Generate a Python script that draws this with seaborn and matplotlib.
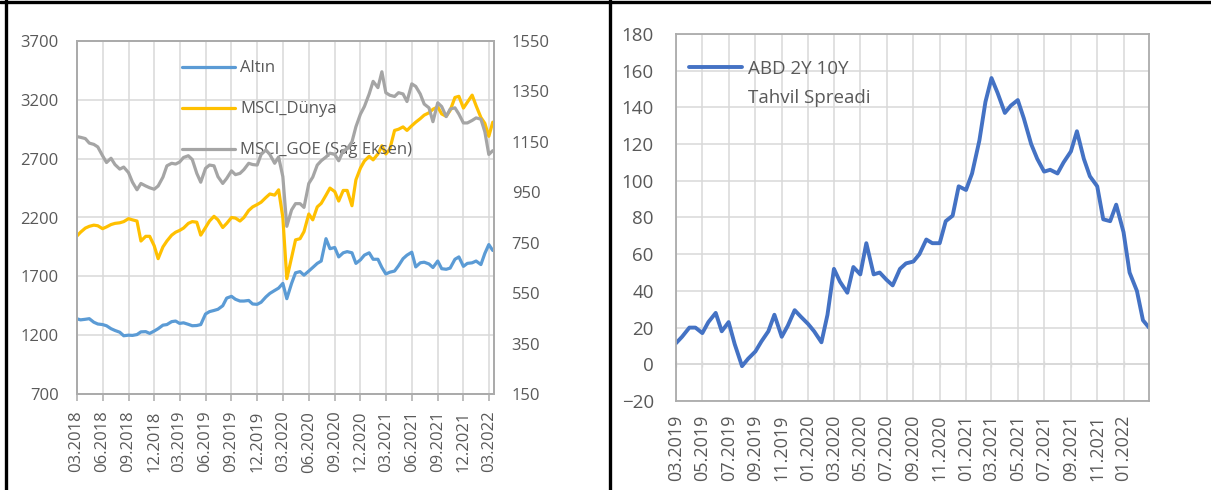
import matplotlib
matplotlib.use("Agg")
import matplotlib.pyplot as plt
import matplotlib.dates as mdates
from matplotlib.lines import Line2D
import seaborn as sns
import pandas as pd

# ---------------- data ----------------
left_dates = pd.date_range("2018-03-01", "2022-03-15", freq="SMS")
gold = [1340, 1330, 1335, 1340, 1310, 1295, 1290, 1280, 1255, 1240, 1225, 1195, 1200, 1198, 1205, 1228, 1230, 1215, 1235, 1255,
        1285, 1290, 1315, 1320, 1300, 1305, 1292, 1280, 1282, 1290, 1380, 1400, 1410, 1420, 1450, 1515, 1530, 1505, 1490, 1490, 1495, 1465, 1462, 1480,
        1525, 1555, 1580, 1600, 1640, 1510, 1640, 1730, 1740, 1710, 1745, 1775, 1810, 1830, 2020, 1935, 1945, 1865, 1900, 1910, 1900, 1810, 1840, 1880,
        1900, 1845, 1845, 1775, 1720, 1735, 1745, 1790, 1850, 1880, 1905, 1780, 1815, 1820, 1805, 1775, 1830, 1765, 1760, 1770, 1845, 1865, 1785, 1810,
        1815, 1830, 1800, 1895, 1970, 1920]
msci_world = [2040, 2075, 2110, 2125, 2135, 2130, 2105, 2120, 2140, 2150, 2155, 2165, 2190, 2180, 2170, 2000, 2040, 2040, 1960, 1850,
              1950, 2000, 2050, 2075, 2090, 2110, 2150, 2165, 2160, 2050, 2115, 2170, 2210, 2180, 2115, 2150, 2200, 2195, 2170, 2200, 2260, 2290, 2310, 2330,
              2370, 2400, 2390, 2435, 2200, 1680, 1860, 2010, 2020, 2080, 2230, 2180, 2290, 2320, 2390, 2450, 2420, 2340, 2430, 2430, 2300, 2520, 2620, 2680,
              2720, 2690, 2740, 2810, 2740, 2780, 2940, 2950, 2970, 2940, 2980, 3010, 3040, 3070, 3090, 3120, 3140, 3080, 3060, 3110, 3220, 3230, 3130, 3180,
              3240, 3150, 3050, 3000, 2890, 3010]
msci_em = [1171, 1168, 1163, 1145, 1140, 1130, 1095, 1068, 1085, 1060, 1042, 1050, 1028, 990, 960, 985, 975, 968, 962, 975,
           1010, 1055, 1065, 1062, 1070, 1088, 1095, 1080, 1025, 990, 1045, 1058, 1055, 1012, 985, 1005, 1035, 1020, 1025, 1040, 1065, 1060, 1058, 1100,
           1118, 1100, 1065, 1090, 1012, 815, 880, 905, 905, 890, 985, 1010, 1058, 1075, 1090, 1105, 1100, 1075, 1115, 1122, 1150, 1210, 1260, 1290,
           1340, 1390, 1365, 1428, 1345, 1335, 1330, 1345, 1340, 1310, 1380, 1370, 1340, 1300, 1285, 1230, 1305, 1290, 1250, 1280, 1285, 1260, 1225, 1225,
           1235, 1245, 1240, 1190, 1100, 1115]
left_labels = ["Altın", "MSCI_Dünya", "MSCI_GOE (Sağ Eksen)"]

right_dates = pd.date_range("2019-03-01", "2022-03-01", freq="SMS")
spread = [11.5, 15, 20, 20, 17, 23, 28, 18, 23, 11, -1, 3, 7, 12.5, 18, 27, 15, 21, 29.5, 26,
          22, 18, 12, 27, 52, 45, 39, 53, 49, 66, 49, 50, 46, 43, 52, 55, 56, 60, 68, 66, 66, 78, 81, 97,
          95, 104, 122, 143, 156, 148, 137, 141, 144, 134, 120, 112, 105, 106, 104, 110, 116, 127, 112, 102.5, 97, 79, 78, 87,
          72, 50, 40, 24, 20]
right_label_line1 = "ABD 2Y 10Y"
right_label_line2 = "Tahvil Spreadi"

left_ticks = pd.date_range("2018-03-01", "2022-03-01", freq="3MS")
right_ticks = pd.date_range("2019-03-01", "2022-01-01", freq="2MS")

# ---------------- style ----------------
sns.set_theme(style="white")
plt.rcParams["font.family"] = ["Open Sans", "DejaVu Sans"]
TXT = "#595959"
GRID = "#D9D9D9"
FRAME = "#ABABAB"
FS = 12
FS2 = 13.5
FS2X = 13

fig = plt.figure(figsize=(12.11, 4.9), dpi=100)
fig.patch.set_facecolor("white")

# outer black frame
fig.add_artist(Line2D([0, 1], [1 - 2.5 / 490, 1 - 2.5 / 490], transform=fig.transFigure, color="black", lw=2.4))
fig.add_artist(Line2D([5.5 / 1211, 5.5 / 1211], [0, 1], transform=fig.transFigure, color="black", lw=2.4))
fig.add_artist(Line2D([610 / 1211, 610 / 1211], [0, 1], transform=fig.transFigure, color="black", lw=2.4))

# ---------------- left chart ----------------
ax1 = fig.add_axes([76.6 / 1211, 96 / 490, 417 / 1211, 353 / 490])
ax1b = ax1.twinx()

sns.lineplot(x=left_dates, y=gold, ax=ax1, color="#5B9BD5", lw=2.3, legend=False)
sns.lineplot(x=left_dates, y=msci_world, ax=ax1, color="#FFC000", lw=2.3, legend=False)
sns.lineplot(x=left_dates, y=msci_em, ax=ax1b, color="#A5A5A5", lw=2.3, legend=False)

ax1.set_xlim(left_dates[0], pd.Timestamp("2022-03-18"))
ax1.set_ylim(700, 3700)
ax1.set_yticks(range(700, 3701, 500))
ax1b.set_ylim(150, 1550)
ax1b.set_yticks(range(150, 1551, 200))
ax1.set_xticks(left_ticks)
ax1.xaxis.set_major_formatter(mdates.DateFormatter("%m.%Y"))
ax1.grid(True, color=GRID, lw=1.1)
ax1b.grid(False)
ax1.tick_params(axis="x", labelrotation=90, labelsize=FS, labelcolor=TXT, length=5, width=1.1,
                color=FRAME, direction="out", pad=7, bottom=True)
ax1.tick_params(axis="y", labelsize=FS, labelcolor=TXT, length=0, pad=13)
ax1b.tick_params(axis="y", labelsize=FS, labelcolor=TXT, length=0, pad=13)
for a in (ax1, ax1b):
    a.set_xlabel("")
    a.set_ylabel("")
    for s in a.spines.values():
        s.set_color(FRAME)
        s.set_linewidth(1.3)

handles = [ax1.get_lines()[0], ax1.get_lines()[1], ax1b.get_lines()[0]]
leg1 = ax1.legend(handles, left_labels, loc="upper left", bbox_to_anchor=(0.253, 0.945),
                  frameon=False, fontsize=FS, labelcolor=TXT, handlelength=3.2, handletextpad=0.3,
                  labelspacing=1.5, borderpad=0, borderaxespad=0)

# ---------------- right chart ----------------
ax2 = fig.add_axes([676 / 1211, 89 / 490, 473 / 1211, 367 / 490])
sns.lineplot(x=right_dates, y=spread, ax=ax2, color="#4472C4", lw=2.8, legend=False)
ax2.set_xlim(right_dates[0], right_dates[-1])
ax2.set_ylim(-20, 180)
ax2.set_yticks(range(-20, 181, 20))
ax2.set_xticks(right_ticks)
ax2.xaxis.set_major_formatter(mdates.DateFormatter("%m.%Y"))
ax2.grid(True, color=GRID, lw=1.1)
ax2.tick_params(axis="x", labelrotation=90, labelsize=FS2X, labelcolor=TXT, length=0, pad=10)
ax2.tick_params(axis="y", labelsize=FS2, labelcolor=TXT, length=0, pad=16)
ax2.set_xlabel("")
ax2.set_ylabel("")
for s in ax2.spines.values():
    s.set_color(FRAME)
    s.set_linewidth(1.3)

# category axis crossing at zero
sec = ax2.secondary_xaxis(0.1)
sec.set_xticks(right_ticks)
sec.tick_params(axis="x", direction="inout", length=5, width=1.0, color=GRID, labelbottom=False)
sec.spines["bottom"].set_color(GRID)
sec.spines["bottom"].set_linewidth(1.3)

leg2 = ax2.legend([ax2.get_lines()[0]], [right_label_line1], loc="upper left", bbox_to_anchor=(0.0275, 0.93),
                  frameon=False, fontsize=FS2, labelcolor=TXT, handlelength=2.85, handletextpad=0.3,
                  borderpad=0, borderaxespad=0)

# second legend line placed under the first legend text
fig.canvas.draw()
bb = leg2.get_texts()[0].get_window_extent()
W, H = fig.get_size_inches() * fig.dpi
fig.text(bb.x0 / W, ((bb.y0 + bb.y1) / 2 - 29) / H, right_label_line2, ha="left", va="center",
         fontsize=FS2, color=TXT)

fig.savefig("out.png", dpi=100, facecolor="white")
